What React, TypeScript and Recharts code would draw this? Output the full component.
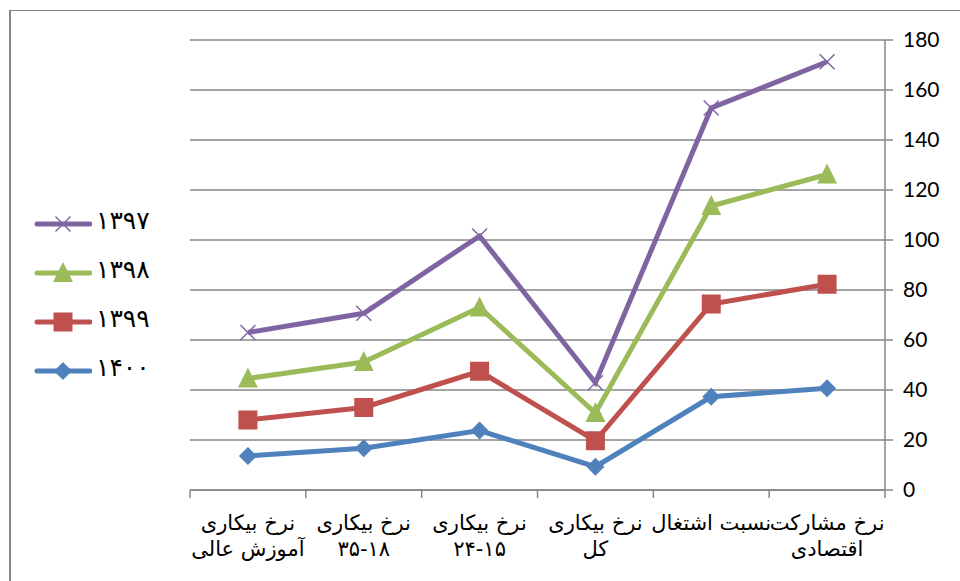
import React from 'react';
import { LineChart, Line, XAxis, YAxis, CartesianGrid } from 'recharts';

const catLine1 = ['نرخ بیکاری', 'نرخ بیکاری', 'نرخ بیکاری', 'نرخ بیکاری', 'نسبت اشتغال', 'نرخ مشارکت'];
const catLine2 = ['آموزش عالی', '۳۵-۱۸', '۲۴-۱۵', 'کل', '', 'اقتصادی'];

const s1397 = [63, 70.7, 101.6, 42.9, 152.8, 171.3];
const s1398 = [44.6, 51.2, 73, 30.8, 113.6, 126.2];
const s1399 = [28, 33, 47.5, 19.7, 74.4, 82.3];
const s1400 = [13.6, 16.7, 23.8, 9.3, 37.3, 40.7];

const yTicks = [0, 20, 40, 60, 80, 100, 120, 140, 160, 180];

const seriesNames = ['۱۳۹۷', '۱۳۹۸', '۱۳۹۹', '۱۴۰۰'];
const seriesKeys = ['a1397', 'a1398', 'a1399', 'a1400'];
const seriesColors = ['#8064A2', '#9BBB59', '#C0504D', '#4F81BD'];
const seriesShapes = ['x', 'triangle', 'square', 'diamond'];

const data = catLine1.map((c, i) => ({
  cat: String(i),
  a1397: s1397[i],
  a1398: s1398[i],
  a1399: s1399[i],
  a1400: s1400[i],
}));

const GRAY = '#868686';
const ARABIC_FONT = '"DejaVu Sans", sans-serif';

function Marker({ shape, cx, cy, color }: { shape: string; cx: number; cy: number; color: string }) {
  if (cx == null || cy == null) return null;
  if (shape === 'diamond') {
    const r = 9;
    return <polygon points={`${cx},${cy - r} ${cx + r},${cy} ${cx},${cy + r} ${cx - r},${cy}`} fill={color} />;
  }
  if (shape === 'square') {
    const h = 9.5;
    return <rect x={cx - h} y={cy - h} width={2 * h} height={2 * h} fill={color} />;
  }
  if (shape === 'triangle') {
    const h = 10;
    return <polygon points={`${cx},${cy - h - 1} ${cx + h},${cy + h - 1} ${cx - h},${cy + h - 1}`} fill={color} />;
  }
  const r = 7.5;
  return (
    <g stroke={color} strokeWidth={1.5}>
      <line x1={cx - r} y1={cy - r} x2={cx + r} y2={cy + r} />
      <line x1={cx - r} y1={cy + r} x2={cx + r} y2={cy - r} />
    </g>
  );
}

const makeDot = (shape: string, color: string) => (props: any) => (
  <Marker key={`${shape}-${props.index}`} shape={shape} cx={props.cx} cy={props.cy} color={color} />
);

const XTick = (props: any) => {
  const { x, y, payload, index } = props;
  const n = catLine1.length;
  const half = payload && payload.offset ? payload.offset : (props.width || 695) / (2 * n);
  const i = Number(payload.value);
  return (
    <g>
      <line x1={x - half} y1={y} x2={x - half} y2={y + 8} stroke={GRAY} strokeWidth={1.5} />
      {index === n - 1 && <line x1={x + half} y1={y} x2={x + half} y2={y + 8} stroke={GRAY} strokeWidth={1.5} />}
      <text x={x} y={y + 40} textAnchor="middle" fontFamily={ARABIC_FONT} fontSize={21} fill="#000" direction="rtl">
        {catLine1[i]}
      </text>
      <text x={x} y={y + 66} textAnchor="middle" fontFamily={ARABIC_FONT} fontSize={21} fill="#000">
        {catLine2[i]}
      </text>
    </g>
  );
};

function LegendBox() {
  return (
    <div style={{ position: 'absolute', left: 34, top: 199, width: 150 }}>
      {seriesNames.map((name, i) => (
        <div key={name} style={{ display: 'flex', alignItems: 'center', height: 49 }}>
          <svg width={58} height={30} style={{ display: 'block' }}>
            <line x1={3} y1={15} x2={56} y2={15} stroke={seriesColors[i]} strokeWidth={5} strokeLinecap="round" />
            <Marker shape={seriesShapes[i]} cx={29} cy={15} color={seriesColors[i]} />
          </svg>
          <span style={{ fontFamily: ARABIC_FONT, fontSize: 25, marginLeft: 4, color: '#000', lineHeight: '30px', position: 'relative', top: -3 }}>{name}</span>
        </div>
      ))}
    </div>
  );
}

export default function App() {
  return (
    <div style={{ position: 'absolute', left: 0, top: 0, width: 960, height: 581, overflow: 'hidden', background: '#fff' }}>
      <div
        style={{
          position: 'absolute',
          left: 9,
          top: 10,
          width: 1000,
          height: 700,
          borderLeft: `2px solid ${GRAY}`,
          borderTop: `1.5px solid ${GRAY}`,
          boxSizing: 'border-box',
        }}
      />
      <div style={{ position: 'absolute', left: 0, top: 0 }}>
        <LineChart width={960} height={581} data={data} margin={{ top: 40, right: 0, bottom: 0, left: 190 }}>
          <CartesianGrid vertical={false} stroke={GRAY} strokeWidth={1.5} strokeOpacity={1} />
          <XAxis
            dataKey="cat"
            scale="band"
            height={91}
            axisLine={{ stroke: GRAY, strokeWidth: 1.5 }}
            tickLine={false}
            tickSize={0}
            tickMargin={0}
            interval={0}
            tick={<XTick />}
          />
          <YAxis
            orientation="right"
            width={75}
            domain={[0, 180]}
            ticks={yTicks}
            interval={0}
            axisLine={{ stroke: GRAY, strokeWidth: 1.5 }}
            tickLine={{ stroke: GRAY, strokeWidth: 1.5 }}
            tickSize={8}
            tickMargin={10}
            tick={{ fontFamily: 'Lato, "Open Sans", sans-serif', fontSize: 21, fill: '#000' }}
          />
          {seriesKeys.map((k, i) => (
            <Line
              key={k}
              dataKey={k}
              name={seriesNames[i]}
              stroke={seriesColors[i]}
              strokeWidth={5}
              isAnimationActive={false}
              dot={makeDot(seriesShapes[i], seriesColors[i])}
              activeDot={false}
            />
          ))}
        </LineChart>
      </div>
      <LegendBox />
    </div>
  );
}
